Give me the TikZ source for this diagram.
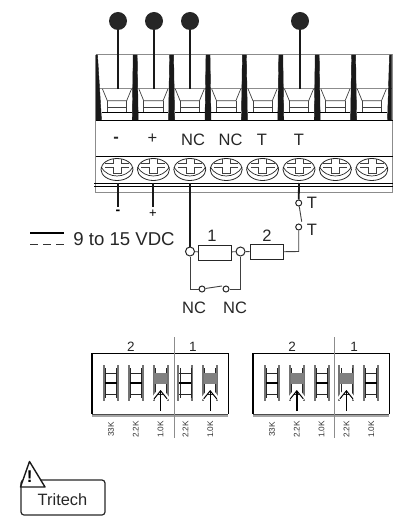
\documentclass[tikz,border=0pt]{standalone}
\usepackage{fontspec}
\setmainfont{Liberation Sans}
\usetikzlibrary{arrows.meta}
\definecolor{wiregray}{gray}{0.25}
\definecolor{railgray}{gray}{0.55}
\tikzset{
    bigtext/.style={inner sep=0pt, text=black!85, font=\fontsize{16.5}{17}\selectfont},
    smalltext/.style={inner sep=0pt, rotate=90, text=black!80, font=\fontsize{8.2}{9}\selectfont},
    bluntdot/.style={circle, fill=black!85, inner sep=0pt, minimum size=18pt},
    opendot/.style={circle, draw=black!85, fill=white, line width=1pt, inner sep=0pt, minimum size=9pt},
    tinydot/.style={circle, draw=black!85, fill=white, line width=1pt, inner sep=0pt, minimum size=6pt},
    resistor/.style={draw=black!85, fill=white, line width=1pt, inner sep=0pt, minimum width=33pt, minimum height=15pt},
    hotwire/.style={black!90, line width=1.8pt},
    thinwire/.style={wiregray, line width=0.9pt}
}
\begin{document}
\begin{tikzpicture}[x=1pt,y=-1pt]
    \useasboundingbox (0,0) rectangle (398,518);

    % terminal block outline
    \draw[railgray, line width=1pt] (95.5,55) -- (392.7,55);
    \draw[railgray, line width=1pt] (95.5,89) -- (392.7,89);
    \draw[railgray, line width=0.8pt] (95.5,55) -- (95.5,192.5) -- (392.7,192.5) -- (392.7,55);
    \draw[black, line width=0.8pt] (95.5,120) -- (392.7,120);
    \draw[black, line width=0.8pt] (95.5,156) -- (392.7,156);
    \draw[black, line width=0.8pt] (94,183) -- (392.7,183);
    \draw[black, line width=0.8pt] (94,186.5) -- (392.7,186.5);

    % dividers between the slots
    \filldraw[black!90] (96,55) -- (97.5,55) -- (101.5,120) -- (96,120) -- cycle;
    \filldraw[black!90] (389.5,55) -- (391.7,55) -- (391.7,120) -- (387.5,120) -- cycle;
    \foreach \x in {135.2,171.6,208,244.4,280.8,317.2,353.6} {
        \filldraw[black!90] (\x-2,55) -- (\x+2,55) -- (\x+3,120) -- (\x-3,120) -- cycle;
    }

    % wire slots and screws
    \foreach \x in {117,153.4,189.8,226.2,262.6,299,335.4,371.8} {
        \draw[wiregray, line width=0.7pt] (\x-14.5,89) -- (\x-9.7,100.7) -- (\x+9.7,100.7) -- (\x+14.5,89);
        \draw[wiregray, line width=0.7pt] (\x-9.7,100.7) -- (\x-9.7,112) (\x+9.7,100.7) -- (\x+9.7,112);
        \draw[wiregray, line width=0.7pt] (\x-9.7,107) -- (\x+9.7,107);
        \draw[black, line width=0.9pt] (\x-15,112) -- (\x+15,112);

        \draw[black!85, line width=0.8pt] (\x,169.5) ellipse (16 and 11);
        \draw[black!85, line width=0.7pt] (\x-16,167) .. controls (\x-9,179) and (\x+9,179) .. (\x+16,167);
        \draw[wiregray, line width=0.6pt] (\x-12,163.5) -- (\x-4,163.5) -- (\x-4,159.5) (\x+4,159.5) -- (\x+4,163.5) -- (\x+12,163.5);
        \draw[wiregray, line width=0.6pt] (\x-12,167) -- (\x-4,167) -- (\x-4,173) -- (\x+4,173) -- (\x+4,167) -- (\x+12,167);
    }

    % wires from the top
    \node[bluntdot] (dotminus) at (118,21) {};
    \node[bluntdot] (dotplus) at (154,21) {};
    \node[bluntdot] (dotnc) at (190,21) {};
    \node[bluntdot] (dott) at (300,21) {};
    \coordinate (slotminus) at (118,89);
    \coordinate (slotplus) at (154,89);
    \coordinate (slotnc) at (190,89);
    \coordinate (slott) at (300,89);
    \draw[hotwire] (dotminus) -- (slotminus);
    \draw[hotwire] (dotplus) -- (slotplus);
    \draw[hotwire] (dotnc) -- (slotnc);
    \draw[hotwire] (dott) -- (slott);

    % labels on the block
    \node[bigtext, font=\bfseries\fontsize{16.5}{17}\selectfont] (blockminus) at (116,140) {-};
    \node[bigtext] (blockplus) at (152.5,139) {+};
    \node[bigtext] (blocknca) at (193,140) {NC};
    \node[bigtext] (blockncb) at (230.5,140) {NC};
    \node[bigtext] (blockta) at (262,140) {T};
    \node[bigtext] (blocktb) at (299,140) {T};

    % wires below the block
    \coordinate (railminus) at (118,183);
    \coordinate (railplus) at (153,183);
    \coordinate (railnc) at (190,183);
    \coordinate (railt) at (299,183);
    \coordinate (endminus) at (118,207);
    \coordinate (endplus) at (153,207);
    \draw[hotwire] (railminus) -- (endminus);
    \draw[hotwire] (railplus) -- (endplus);
    \node[inner sep=0pt, font=\bfseries\fontsize{14}{14}\selectfont] (lowminus) at (118,212.5) {-};
    \node[inner sep=0pt, font=\fontsize{13}{13}\selectfont] (lowplus) at (153,214) {+};

    % legend
    \coordinate (solidleft) at (30,233);
    \coordinate (solidright) at (64,233);
    \coordinate (dashleft) at (30,244);
    \coordinate (dashright) at (64,244);
    \draw[black, line width=1.3pt] (solidleft) -- (solidright);
    \draw[black!80, line width=0.9pt, dash pattern=on 8pt off 5pt] (dashleft) -- (dashright);
    \node[inner sep=0pt, text=black!85, font=\fontsize{18.6}{19}\selectfont] (supply) at (124,239) {9 to 15 VDC};

    % loop circuit
    \node[opendot] (loopa) at (190,251.5) {};
    \node[resistor] (resa) at (215,252.5) {};
    \node[opendot] (loopb) at (240.5,251.5) {};
    \node[resistor] (resb) at (266.5,252) {};
    \node[tinydot] (tampertop) at (298.7,203) {};
    \node[tinydot] (tamperlow) at (298.7,227) {};
    \node[tinydot] (switcha) at (202,289) {};
    \node[tinydot] (switchb) at (226,289) {};
    \coordinate (cornerr) at (298.7,251.5);
    \coordinate (cornerl) at (190,289);
    \coordinate (cornerb) at (240.5,289);
    \coordinate (leverend) at (301.7,221.7);
    \coordinate (leverlow) at (222,286);

    \draw[hotwire] (railnc) -- (loopa);
    \draw[hotwire] (railt) -- (tampertop);
    \draw[thinwire] (loopa) -- (resa);
    \draw[thinwire] (resa) -- (loopb);
    \draw[thinwire] (loopb) -- (resb);
    \draw[thinwire] (resb) -- (cornerr) -- (tamperlow);
    \draw[thinwire] (tampertop) -- (leverend);
    \draw[thinwire] (loopa) -- (cornerl) -- (switcha);
    \draw[thinwire] (switcha) -- (leverlow);
    \draw[thinwire] (switchb) -- (cornerb) -- (loopb);

    \node[bigtext] (resone) at (212,236) {1};
    \node[bigtext] (restwo) at (267,236) {2};
    \node[bigtext] (labelta) at (312,203) {T};
    \node[bigtext] (labeltb) at (312,230) {T};
    \node[bigtext] (labelnca) at (194,308) {NC};
    \node[bigtext] (labelncb) at (235,308) {NC};

    % dip switch boxes
    \foreach \bx/\dv/\lo/\lt/\name in {92/174/131/193/left,253/334/292/354/right} {
        \draw[black, line width=0.7pt] (\bx,353) -- (\bx+136,353) -- (\bx+136,414);
        \draw[black, line width=1.2pt] (\bx,353) -- (\bx,414);
        \draw[black!70, line width=0.7pt] (\bx,414) -- (\bx+136,414);
        \draw[black!35, line width=1.2pt] (\bx,416) -- (\bx+136,416);
        \draw[railgray, line width=0.6pt] (\dv,337) -- (\dv,438);
        \node[inner sep=0pt, text=black!85, font=\fontsize{13.5}{14}\selectfont] (twolabel\name) at (\lo,346.5) {2};
        \node[inner sep=0pt, text=black!85, font=\fontsize{13.5}{14}\selectfont] (onelabel\name) at (\lt,346.5) {1};
        \foreach \i/\val in {0/33K,1/2.2K,2/1.0K,3/2.2K,4/1.0K} {
            \pgfmathsetmacro{\sx}{\bx+19+24.8*\i}
            \draw[black!55, line width=2pt] (\sx-7,365) -- (\sx-7,401) (\sx+7,365) -- (\sx+7,401);
            \draw[black!85, line width=0.7pt] (\sx-5.5,368) -- (\sx-5.5,398) (\sx+5.5,368) -- (\sx+5.5,398);
            \draw[black!85, line width=0.7pt] (\sx-6,373) -- (\sx+6,373);
            \draw[black!85, line width=0.7pt] (\sx-6,394) -- (\sx+6,394);
            \draw[black, line width=1.5pt] (\sx-6,383) -- (\sx+6,383);
            \node[smalltext] (val\name\i) at (\sx,429.5) {\val};
        }
    }

    % switches that are set
    \foreach \sx in {160.6,210.2,296.8,346.4} {
        \filldraw[black!50] (\sx-6,373) rectangle (\sx+6,383);
        \draw[white, line width=3pt] (\sx,388) -- (\sx-8,399) (\sx,388) -- (\sx+8,399);
        \draw[black, line width=1.4pt, -{Straight Barb[length=8pt,width=13pt,line width=1pt]}] (\sx,411) -- (\sx,390);
    }

    % warning tag
    \draw[black!85, line width=1.2pt, rounded corners=3pt] (21,480) rectangle (105,515);
    \filldraw[fill=white, draw=black!90, line width=1.4pt, line join=round] (29.5,461.5) -- (45,487) -- (20.5,487) -- cycle;
    \node[inner sep=0pt, font=\bfseries\fontsize{17}{17}\selectfont] (warnmark) at (29.7,477) {!};
    \node[inner sep=0pt, text=black!85, font=\fontsize{16.4}{17}\selectfont] (tritech) at (62.5,500) {Tritech};
\end{tikzpicture}
\end{document}
